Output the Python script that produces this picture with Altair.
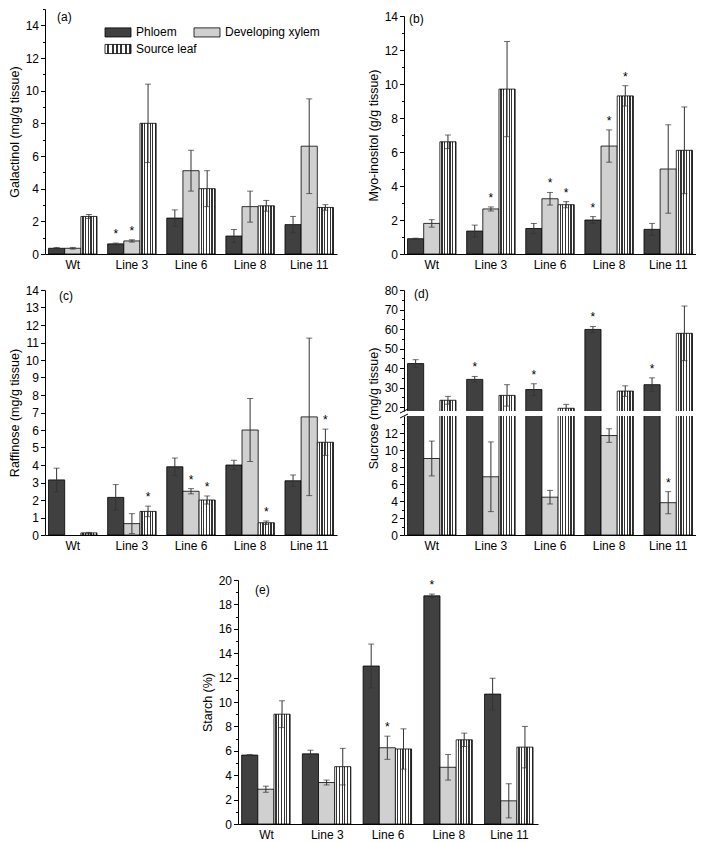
import altair as alt
import pandas as pd

FONT = "Liberation Sans"

lines = ["Wt", "Line 3", "Line 6", "Line 8", "Line 11"]
tissues = ["Phloem", "Developing xylem", "Source leaf"]

# (a) Galactinol (mg/g tissue)
gal_phloem = [0.35, 0.62, 2.2, 1.1, 1.8]
gal_phloem_err = [0.05, 0.05, 0.5, 0.4, 0.5]
gal_xylem = [0.35, 0.8, 5.1, 2.9, 6.6]
gal_xylem_err = [0.05, 0.07, 1.25, 0.95, 2.9]
gal_leaf = [2.3, 8.0, 4.0, 2.95, 2.85]
gal_leaf_err = [0.12, 2.4, 1.1, 0.33, 0.17]
gal_star_phloem = [0, 1, 0, 0, 0]
gal_star_xylem = [0, 1, 0, 0, 0]
gal_star_leaf = [0, 0, 0, 0, 0]

# (b) Myo-inositol (g/g tissue)
myo_phloem = [0.9, 1.35, 1.5, 2.0, 1.45]
myo_phloem_err = [0.03, 0.35, 0.3, 0.2, 0.35]
myo_xylem = [1.8, 2.65, 3.25, 6.35, 5.0]
myo_xylem_err = [0.22, 0.12, 0.37, 0.95, 2.6]
myo_leaf = [6.6, 9.7, 2.9, 9.3, 6.1]
myo_leaf_err = [0.4, 2.8, 0.18, 0.6, 2.55]
myo_star_phloem = [0, 0, 0, 1, 0]
myo_star_xylem = [0, 1, 1, 1, 0]
myo_star_leaf = [0, 0, 1, 1, 0]

# (c) Raffinose (mg/g tissue)
raf_phloem = [3.15, 2.15, 3.9, 4.0, 3.1]
raf_phloem_err = [0.67, 0.73, 0.5, 0.27, 0.33]
raf_xylem = [0.0, 0.65, 2.5, 6.0, 6.75]
raf_xylem_err = [0.0, 0.57, 0.15, 1.8, 4.5]
raf_leaf = [0.12, 1.35, 2.0, 0.7, 5.3]
raf_leaf_err = [0.03, 0.3, 0.23, 0.1, 0.75]
raf_star_phloem = [0, 0, 0, 0, 0]
raf_star_xylem = [0, 0, 1, 0, 0]
raf_star_leaf = [0, 1, 1, 1, 1]

# (d) Sucrose (mg/g tissue)
suc_phloem = [42.3, 34.2, 29.0, 59.8, 31.5]
suc_phloem_err = [2.0, 1.5, 3.0, 1.5, 3.5]
suc_xylem = [9.0, 6.85, 4.45, 11.7, 3.8]
suc_xylem_err = [2.05, 4.1, 0.8, 0.8, 1.3]
suc_leaf = [23.5, 26.0, 19.4, 28.2, 57.8]
suc_leaf_err = [2.0, 5.5, 2.0, 2.7, 14.0]
suc_star_phloem = [0, 1, 1, 1, 1]
suc_star_xylem = [0, 0, 0, 0, 1]
suc_star_leaf = [0, 0, 0, 0, 0]

# (e) Starch (%)
sta_phloem = [5.65, 5.75, 12.95, 18.7, 10.65]
sta_phloem_err = [0.05, 0.3, 1.8, 0.15, 1.3]
sta_xylem = [2.85, 3.4, 6.25, 4.65, 1.9]
sta_xylem_err = [0.25, 0.2, 0.95, 1.05, 1.4]
sta_leaf = [9.0, 4.7, 6.15, 6.9, 6.3]
sta_leaf_err = [1.1, 1.5, 1.65, 0.55, 1.7]
sta_star_phloem = [0, 0, 0, 1, 0]
sta_star_xylem = [0, 0, 1, 0, 0]
sta_star_leaf = [0, 0, 0, 0, 0]


def make_df(vals, errs, stars):
    rows = []
    for t, v, e, s in zip(tissues, vals, errs, stars):
        for i, ln in enumerate(lines):
            rows.append({"line": ln, "tissue": t, "mean": v[i], "err": e[i],
                         "lo": v[i] - e[i], "hi": v[i] + e[i], "star": s[i]})
    return pd.DataFrame(rows)


df_a = make_df([gal_phloem, gal_xylem, gal_leaf], [gal_phloem_err, gal_xylem_err, gal_leaf_err],
               [gal_star_phloem, gal_star_xylem, gal_star_leaf])
df_b = make_df([myo_phloem, myo_xylem, myo_leaf], [myo_phloem_err, myo_xylem_err, myo_leaf_err],
               [myo_star_phloem, myo_star_xylem, myo_star_leaf])
df_c = make_df([raf_phloem, raf_xylem, raf_leaf], [raf_phloem_err, raf_xylem_err, raf_leaf_err],
               [raf_star_phloem, raf_star_xylem, raf_star_leaf])
df_d = make_df([suc_phloem, suc_xylem, suc_leaf], [suc_phloem_err, suc_xylem_err, suc_leaf_err],
               [suc_star_phloem, suc_star_xylem, suc_star_leaf])
df_e = make_df([sta_phloem, sta_xylem, sta_leaf], [sta_phloem_err, sta_xylem_err, sta_leaf_err],
               [sta_star_phloem, sta_star_xylem, sta_star_leaf])

# hatch-like fill for "Source leaf" built as a striped gradient
n_stripes = 6
stops = []
for k in range(n_stripes):
    a0 = k / n_stripes
    a1 = (k + 0.56) / n_stripes
    a2 = (k + 1) / n_stripes
    stops += [(a0, "#ffffff"), (a1, "#ffffff"), (a1, "#333333"), (a2, "#333333")]
stop_txt = ", ".join("{offset: %.4f, color: '%s'}" % (o, c) for o, c in stops)
hatch_expr = "{gradient: 'linear', x1: 0, y1: 0, x2: 1, y2: 0, stops: [" + stop_txt + "]}"

fill_scale = alt.Scale(domain=tissues, range=["#404040", "#d0d0d0", {"expr": hatch_expr}])


def yaxis(major_vals, title=None, title_y=None):
    kw = dict(values=major_vals, tickSize=4.5, labelPadding=2, titlePadding=4, grid=False, orient="left",
              offset=0)
    kw["title"] = title if title is not None else None
    if title_y is not None:
        kw["titleY"] = title_y
    return alt.Axis(**kw)


def minor_axis(vals):
    return alt.Axis(values=vals, labels=False, domain=False, tickSize=2.5, title=None, grid=False,
                    orient="left", offset=0)


def panel(df, ydom, yax, minor_vals, tag, tag_xy, width, height, legend=None, show_x=True, clip=False,
          extra=None):
    xscale = alt.Scale(paddingInner=0.18, paddingOuter=0.06)
    xaxis = alt.Axis(title=None, labelAngle=0, ticks=False, labelPadding=5, domainColor="black") if show_x else None
    xo = alt.XOffset("tissue:N", sort=tissues, scale=alt.Scale(domain=tissues, paddingInner=0, paddingOuter=0))
    ysc = alt.Scale(domain=ydom, nice=False, zero=False)
    xx = alt.X("line:N", sort=lines, scale=xscale, axis=xaxis, title=None)
    base = alt.Chart(df)

    bars = base.transform_filter("datum.mean > 0").mark_bar(stroke="black", strokeWidth=0.8, clip=clip).encode(
        x=xx,
        xOffset=xo,
        y=alt.Y("mean:Q", scale=ysc, axis=yax),
        fill=alt.Fill("tissue:N", scale=fill_scale, legend=legend),
    )
    eb = base.transform_filter("datum.err > 0")
    rule = eb.mark_rule(color="#333333", strokeWidth=1, clip=clip).encode(
        x=xx, xOffset=xo, y=alt.Y("lo:Q", scale=ysc, axis=None), y2="hi:Q")
    cap_hi = eb.mark_tick(orient="horizontal", size=6, thickness=1, color="#333333", clip=clip).encode(
        x=xx, xOffset=xo, y=alt.Y("hi:Q", scale=ysc, axis=None))
    cap_lo = eb.mark_tick(orient="horizontal", size=6, thickness=1, color="#333333", clip=clip).encode(
        x=xx, xOffset=xo, y=alt.Y("lo:Q", scale=ysc, axis=minor_axis(minor_vals) if minor_vals else None))
    stars = base.transform_filter("datum.star == 1").mark_text(
        text="*", dy=-9, fontSize=12, font=FONT, color="black", clip=clip).encode(
        x=xx, xOffset=xo, y=alt.Y("hi:Q", scale=ysc, axis=None))

    layers = [bars, cap_lo, rule, cap_hi, stars]
    if tag:
        layers.append(alt.Chart(pd.DataFrame({"t": [tag]})).mark_text(
            align="left", baseline="bottom", fontSize=12, font=FONT, color="black").encode(
            text="t:N", x=alt.value(tag_xy[0]), y=alt.value(tag_xy[1])))
    if extra is not None:
        layers += extra
    return alt.layer(*layers).properties(width=width, height=height).resolve_axis(y="independent")


leg = alt.Legend(title=None, orient="none", legendX=66, legendY=16, columns=2, direction="horizontal",
                 symbolType="M-2,-0.7H2V0.7H-2Z", symbolSize=169, symbolStrokeColor="black",
                 symbolStrokeWidth=0.8, labelFontSize=12, labelFont=FONT, labelColor="black",
                 labelOffset=11, columnPadding=-5, rowPadding=3, padding=0)

# axis-break marks for the split sucrose axis
brk = pd.DataFrame({"k": [0]})
break_marks = [
    alt.Chart(brk).mark_rule(color="black", strokeWidth=1).encode(
        x=alt.value(-4), x2=alt.value(4), y=alt.value(2), y2=alt.value(-2)),
    alt.Chart(brk).mark_rule(color="black", strokeWidth=1).encode(
        x=alt.value(-4), x2=alt.value(4), y=alt.value(-3), y2=alt.value(-7)),
]

W = 292
pa = panel(df_a, [0, 15], yaxis(list(range(0, 15, 2)), "Galactinol (mg/g tissue)"), list(range(1, 16, 2)),
           "(a)", (12, 15), W, 245, legend=leg)
pb = panel(df_b, [0, 14], yaxis(list(range(0, 15, 2)), "Myo-inositol (g/g tissue)"), list(range(1, 14, 2)),
           "(b)", (5, 10), W, 238)
pc = panel(df_c, [0, 14], yaxis(list(range(0, 15)), "Raffinose (mg/g tissue)"), None,
           "(c)", (14, 13), W, 245)
pd_top = panel(df_d, [18, 80], yaxis(list(range(20, 81, 10))), list(range(25, 80, 10)), "(d)", (10, 11),
               W, 121, show_x=False, clip=True)
pd_bot = panel(df_d, [0, 14], yaxis(list(range(0, 13, 2)), "Sucrose (mg/g tissue)", title_y=-8),
               list(range(1, 14, 2)), None, None, W, 119, clip=True, extra=break_marks)
pe = panel(df_e, [0, 20], yaxis(list(range(0, 21, 2)), "Starch (%)"), list(range(1, 20, 2)),
           "(e)", (17, 17), 300, 244)

spacer = alt.Chart(pd.DataFrame({"v": [0]})).mark_point(opacity=0, size=0).properties(width=156, height=10)
top_gap = alt.Chart(pd.DataFrame({"v": [0]})).mark_point(opacity=0, size=0).properties(width=10, height=1)

bcol = alt.vconcat(top_gap, pb, spacing=0).resolve_scale(fill="independent")
row1 = alt.hconcat(pa, bcol, spacing=30).resolve_scale(fill="independent")
dcol = alt.vconcat(pd_top, pd_bot, spacing=5, bounds="flush")
row2 = alt.hconcat(pc, dcol, spacing=30).resolve_scale(fill="independent")
row3 = alt.hconcat(spacer, pe, spacing=0).resolve_scale(fill="independent")
top2 = alt.vconcat(row1, row2, spacing=14).resolve_scale(fill="independent")

chart = alt.vconcat(top2, row3, spacing=23).resolve_scale(fill="independent").properties(
    padding=0
).configure_view(stroke=None).configure_axis(
    labelFont=FONT, titleFont=FONT, labelFontSize=12, titleFontSize=12.5, labelColor="black",
    titleColor="black", domainColor="black", tickColor="black", titleFontWeight="normal",
    domainWidth=1, tickWidth=1
)

chart.save("out.html", embed_options={"renderer": "svg", "actions": False})
